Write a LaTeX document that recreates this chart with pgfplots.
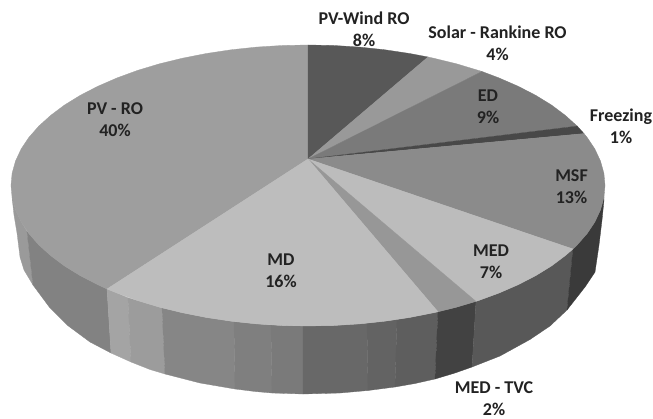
\documentclass[border=0pt]{standalone}
\usepackage{pgfplots}
\pgfplotsset{compat=1.18}
\usepackage{fontspec}
\setmainfont{Carlito}
\newcommand{\slice}[2]{\addplot[fill=#1,draw=#1,line width=0.3pt] coordinates {#2} -- cycle;}
\definecolor{cwind}{HTML}{585858}
\definecolor{csolar}{HTML}{999999}
\definecolor{ced}{HTML}{7A7A7A}
\definecolor{cfrz}{HTML}{484848}
\definecolor{cmsf}{HTML}{8B8B8B}
\definecolor{cmed}{HTML}{BCBCBC}
\definecolor{ctvc}{HTML}{979797}
\definecolor{cmd}{HTML}{BDBDBD}
\definecolor{cpv}{HTML}{9E9E9E}
\definecolor{txt}{HTML}{222222}
\definecolor{sa}{HTML}{9A9A9A}
\definecolor{sb}{HTML}{828282}
\definecolor{sca}{HTML}{A4A4A4}
\definecolor{scb}{HTML}{9C9C9C}
\definecolor{sd}{HTML}{868686}
\definecolor{se}{HTML}{7F7F7F}
\definecolor{sf}{HTML}{7A7A7A}
\definecolor{sg}{HTML}{686868}
\definecolor{sha}{HTML}{636363}
\definecolor{shb}{HTML}{5E5E5E}
\definecolor{si}{HTML}{424242}
\definecolor{sj}{HTML}{585858}
\definecolor{sk}{HTML}{3A3A3A}
\begin{document}
\begin{tikzpicture}
\begin{axis}[
  scale only axis, width=653pt, height=419pt,
  xmin=0, xmax=653, ymin=0, ymax=419, y dir=reverse,
  axis lines=none, ticks=none, clip=true,
  nodes={font=\fontsize{18}{22}\selectfont\bfseries, text=txt, align=center, inner sep=0pt},
]
\addplot[fill=white,draw=none] coordinates {(0,0)(653,0)(653,419)(0,419)} -- cycle;
% side wall
\slice{sa}{(12.1,197.7)(15.5,209.9)(21.1,221.9)(27,231.5)(33,285)(24,270)(20,257)(17,233)(14,215)}
\slice{sb}{(27,231.5)(28.9,233.6)(38.8,244.9)(50.8,255.7)(64.7,266.1)(80.5,275.8)(98,284.8)(107,289)(111,353)(90,342)(67,325)(50,308)(33,285)}
\slice{sca}{(107,289)(117.1,293.1)(128,297.8)(131,362)(111,353)}
\slice{scb}{(128,297.8)(137.6,300.6)(159.5,307.2)(162,307.9)(165,374)(150,369.5)(131,362)}
\slice{sd}{(162,307.9)(182.5,312.8)(206.4,317.5)(231.1,321.2)(234,321.6)(235,389)(200,383)(165,374)}
\slice{se}{(234,321.6)(256.4,323.9)(271,325)(272,393)(255,391.5)(235,389)}
\slice{sf}{(271,325)(282.1,325.5)(303,326)(303,394)(272,393)}
\slice{sg}{(303,326)(308,326)(333.9,325.5)(359.6,323.9)(367,323.2)(368,390.5)(340,393)(303,394)}
\slice{sha}{(367,323.2)(384.9,321.2)(397,319.5)(395,387)(368,390.5)}
\slice{shb}{(397,319.5)(409.6,317.5)(433.5,312.8)(438,311.8)(435,379)(415,383.5)(395,387)}
\slice{si}{(438,311.8)(456.5,307.2)(476,301.4)(472,367)(455,373)(435,379)}
\slice{sj}{(476,301.4)(478.4,300.6)(498.9,293.1)(518,284.8)(535.5,275.8)(551.3,266.1)(565.2,255.7)(573,249)(567,310)(550,326)(530,339.5)(500,356)(472,367)}
\slice{sk}{(573,249)(577.2,244.9)(587.1,233.6)(594.9,221.9)(600.5,209.9)(603.9,197.7)(604,200)(602,220)(599,245)(595,272)(585,287)(567,310)}
% top surface
\slice{cpv}{(308,159)(107,289)(98,284.8)(80.5,275.8)(64.7,266.1)(50.8,255.7)(38.8,244.9)(28.9,233.6)(21.1,221.9)(15.5,209.9)(12.1,197.7)(11,185.5)(12.1,173.3)(15.5,161.1)(21.1,149.1)(28.9,137.4)(38.8,126.1)(50.8,115.3)(64.7,104.9)(80.5,95.2)(98,86.2)(117.1,77.9)(137.6,70.4)(159.5,63.8)(182.5,58.2)(206.4,53.5)(231.1,49.8)(256.4,47.1)(282.1,45.5)(308,45)}
\slice{cwind}{(308,159)(308,45)(333.9,45.5)(359.6,47.1)(384.9,49.8)(409.6,53.5)(428,57)}
\slice{csolar}{(308,159)(428,57)(433.5,58.2)(456.5,63.8)(478.4,70.4)(482,71.5)}
\slice{ced}{(308,159)(482,71.5)(498.9,77.9)(518,86.2)(535.5,95.2)(551.3,104.9)(565.2,115.3)(577.2,126.1)}
\slice{cfrz}{(308,159)(577.2,126.1)(584,133.6)}
\slice{cmsf}{(308,159)(584,133.6)(587.1,137.4)(594.9,149.1)(600.5,161.1)(603.9,173.3)(605,185.5)(603.9,197.7)(600.5,209.9)(594.9,221.9)(587.1,233.6)(577.2,244.9)(573,249)}
\slice{cmed}{(308,159)(573,249)(565.2,255.7)(551.3,266.1)(535.5,275.8)(518,284.8)(498.9,293.1)(478.4,300.6)(476,301.4)}
\slice{ctvc}{(308,159)(476,301.4)(456.5,307.2)(438,311.8)}
\slice{cmd}{(308,159)(438,311.8)(433.5,312.8)(409.6,317.5)(384.9,321.2)(359.6,323.9)(333.9,325.5)(308,326)(282.1,325.5)(256.4,323.9)(231.1,321.2)(206.4,317.5)(182.5,312.8)(159.5,307.2)(137.6,300.6)(117.1,293.1)(107,289)}
% labels
\node at (axis cs:364,29) {PV-Wind RO\\8\%};
\node at (axis cs:497.5,43) {Solar - Rankine RO\\4\%};
\node at (axis cs:488,107) {ED\\9\%};
\node at (axis cs:621,126) {Freezing\\1\%};
\node at (axis cs:571.5,187) {MSF\\13\%};
\node at (axis cs:491,262) {MED\\7\%};
\node at (axis cs:494,398.5) {MED - TVC\\2\%};
\node at (axis cs:281,271) {MD\\16\%};
\node at (axis cs:115,120) {PV - RO\\40\%};
\end{axis}
\end{tikzpicture}
\end{document}
